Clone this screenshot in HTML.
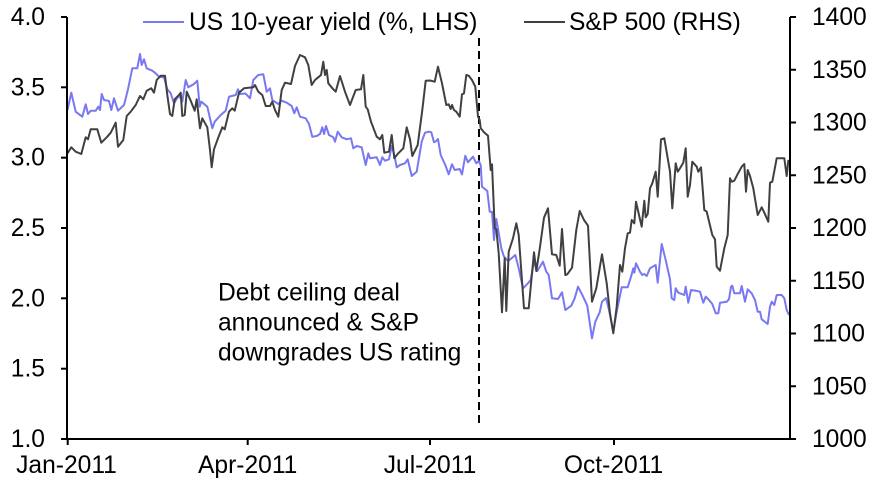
<!DOCTYPE html>
<html>
<head>
<meta charset="utf-8">
<style>
  html, body { margin: 0; padding: 0; background: #ffffff; }
  svg { display: block; }
  text { font-family: "Liberation Sans", Arial, sans-serif; font-size: 24.6px; fill: #000; }
</style>
</head>
<body>
<svg width="873" height="481" viewBox="0 0 873 481" xmlns="http://www.w3.org/2000/svg">
  <!-- Annotation dashed line -->
  <line x1="479" y1="38" x2="479" y2="423" stroke="#000" stroke-width="2" stroke-dasharray="8,5"/>

  <!-- US 10-year yield (blue) -->
  <polyline fill="none" stroke="#7878f2" stroke-width="2" stroke-linejoin="round" points="
67.5,110 71.3,92.7 75.7,111.7 82.3,116.7 85.7,104.3 88,114 90.7,110.7 95.7,110.7 98.3,106.7 100,110 101.7,94 104,100 109,101 111.3,110 114,98.3 118,110.7 124,105 128,89.3 132.3,68.3 137.3,68.3 140,54 141.7,65 144,59.3 146.7,68.3 152.3,70.7 155.7,73.3 159,76.7 164,77.3 167.3,89.3 170.7,93.3 174,103.3 179,95 182.3,101.7 185.7,80 188.3,87.3 194,84 197.3,80.7 199.7,106.7 201.3,101.7 207.3,106.7 212.3,128.3 214.7,121.7 220.7,115 225.7,110.7 229,96.7 235.7,95 238,89.3 240,94 245.5,93.5 250,98.3 253.3,80 258.3,75 263.3,74.3 266.7,91.7 270,88.3 272.3,100 278.3,104 281.7,100.7 286.7,102.7 291.7,106 294.3,113.3 296.7,107.3 300,116.7 305.7,118.3 309,124 312.3,136.7 316.7,136 320,134 322.3,127.3 324,134 326,126 329,135 333.3,137.3 335,141.7 337.7,131.7 341.7,137.3 346.7,139.3 351,138.3 353.3,148.3 356.7,146 361.7,147.3 365.7,165 368.3,153.3 370,158.3 376.7,157.3 380,165 382.3,157.3 385,160.7 389,159.3 391.7,146 394.3,155 396.7,167.3 400,165 405,163.3 407.7,159.3 411.7,176 416.7,171.7 421.7,141.7 425,132.7 429,131.7 431.3,132.3 434,142.3 436.3,141 438,139 440.7,155 445.3,165 448.7,174.3 452,164.3 454.7,170 459.7,169 462,174.3 465.3,155.7 468,162.3 473,156.7 476.3,163.3 478.7,161 480.7,165 482,186.7 487.3,191 489.7,211.7 492,211.7 494,240 496.3,219 501.3,248.3 504,256.7 508,261 510.7,259 515.3,255 518.7,268.3 523,288.3 528,283.3 530.7,280 534,261.7 537.3,271 543,261.7 546.3,271.7 548.7,275 552,298.3 558,299 562,292.3 565.3,310 571.3,305.7 574.7,298.3 578,286.7 582,294.3 587.3,305.7 592,338.3 595.3,321.7 599.7,312.3 602,301.7 606,298 609,310 613.3,331.7 616.7,311.7 621.7,287.3 627.7,287.3 631,276.7 633.3,268.3 634.3,272.7 636,263.3 640,271.7 642.3,275 644.3,274 646.7,276 650,268.3 655.7,265 657.7,282.7 661.7,244 665.7,260 670,279.3 671.7,298.3 674.3,300 675.7,288.3 678.3,292.7 684.3,295 685.7,286.7 688.3,302.7 691,290 695.7,290.7 700,291.7 703.3,302.7 705.7,296.7 709,300 712.3,304 715.7,313.3 718.3,313.3 720,302.7 726.7,301.7 729,299.3 731,286.7 732.3,285.7 734.3,293.3 740,293.3 741.7,286 745,301.7 747.7,289.3 751.7,293.3 755,300 757.7,311.7 760,311.7 761.7,319.3 767.7,324 770,306.7 771.7,301.7 774.3,305 776.7,295 781.7,295 784.3,298.3 786.7,310 789,315"/>

  <!-- S&P 500 (dark grey) -->
  <polyline fill="none" stroke="#404040" stroke-width="2" stroke-linejoin="round" points="
67.5,153.3 71.3,147.3 75.7,151.7 81.3,154 85.7,137.3 88,139.3 90.7,129.3 97.3,129.3 101.3,142.7 107.3,136.7 110.7,132.7 115.7,122.7 118,146.7 123.3,140 126.7,116 130.7,111.7 135.7,105 140,96 143.3,99.3 146.7,90.7 151.3,88.3 154,92.7 156.7,80 160.7,75.7 165,75.7 167.3,95 170,114 172.3,116 174.7,99.3 179,95 180.7,92.7 182.3,116 184.7,115 186.7,91.7 190.7,100.7 194.7,110.7 196.7,99.3 200,128.3 202.3,118.3 207.3,127.3 210,150 211.7,167.3 214,149.3 218,138.3 222.3,127.3 224.7,129.3 229,111.7 232.3,108.3 234.7,110.7 239,92.7 244,88.3 253.3,87.3 255,85 258.3,91.7 262.3,95 265.7,106 270,106 272.3,101.7 275,110 278.3,116.7 281.7,90 285,82.7 291,84 295,66 300,55 305,57.3 308.3,65 311.7,85 315,80 319,76.7 321,75 323.3,61.7 325,75 326.7,70 328.3,83.3 333.3,89.3 335.7,91.7 340,76 345,91.7 350,105 355.7,90 361,89.3 363.3,75 365.7,106.7 367.7,109.3 371,121.7 376.7,136.7 380,139.3 382.3,135 384.3,152.7 389,151.7 391.7,135 394.3,158.3 398.3,153.3 403.3,148.3 406.7,127.3 410,139.3 412.3,156 417.7,145 422.3,110 425.7,80.7 430,80.5 434.7,81.7 438,66.7 442,83.3 446.3,105 448.7,104.3 450.7,109 452,105 454,110 456.3,111.7 459.7,116.7 462,94.3 464,93.3 466.3,75 468.7,75.7 472,80 475.3,86.7 478,116.7 479.7,120 480.7,128.3 484,132.3 488,135.7 490.7,170 492,164.3 494.7,228.3 496.3,229 498.7,253.3 502,312.3 504.7,258.3 506.3,311 508.7,251.7 513,238.3 516.3,223.3 518.7,235 524,308.3 528.7,308.3 534,252.3 536.3,271 539.7,249 544,217.7 548,208.3 552,254.3 556.3,255 559.7,265.7 562,229 565.3,275 567.3,274.3 572,267.7 576.3,230 579.7,211 584,220 588,225.7 592,301.7 596.3,288.3 602,254.3 604.7,271 606.7,283.3 610,313.3 613.3,333.3 616.7,306.7 620,265 622.3,271.7 625,248.3 627.7,233.3 630,232.7 631.7,220 634.3,223.3 636,201.7 639,215 641.7,226.7 644.3,200.7 645.7,217.3 647.7,214 650,188.3 652.3,183.3 655.7,171.7 657.7,196.7 661,139.3 664.3,138.3 670,171.7 672.3,208.3 675.7,163.3 677.7,171.7 680,168.3 683.3,162.7 685.7,148.3 687.7,196.7 690,185 692.3,161.7 696.7,166.7 698.3,171.7 701,167.3 704.3,210 706.7,211.7 712.3,235 715,239.3 716.7,266.7 720,270.7 721.7,261.7 724.3,248.3 727.7,235 730,178.3 731.7,181.7 734.3,180.7 737.7,174 741.7,166.7 744.3,164 746,191.7 747.7,170 750,176 753.3,188.3 757.7,215 761.7,207.3 764.3,212.7 768.3,221.7 770,182.7 772.3,181.7 776.7,158.3 784.3,158.3 786.7,176 788.3,160.7 789,163"/>

  <!-- Axes -->
  <g stroke="#000" stroke-width="2" fill="none">
    <line x1="67" y1="17" x2="67" y2="440"/>
    <line x1="790" y1="17" x2="790" y2="440"/>
    <line x1="66" y1="439" x2="791" y2="439"/>
    <!-- left ticks -->
    <line x1="61" y1="17" x2="67" y2="17"/>
    <line x1="61" y1="87.3" x2="67" y2="87.3"/>
    <line x1="61" y1="157.7" x2="67" y2="157.7"/>
    <line x1="61" y1="228" x2="67" y2="228"/>
    <line x1="61" y1="298.3" x2="67" y2="298.3"/>
    <line x1="61" y1="368.7" x2="67" y2="368.7"/>
    <line x1="61" y1="439" x2="67" y2="439"/>
    <!-- right ticks -->
    <line x1="790" y1="17" x2="796" y2="17"/>
    <line x1="790" y1="69.75" x2="796" y2="69.75"/>
    <line x1="790" y1="122.5" x2="796" y2="122.5"/>
    <line x1="790" y1="175.25" x2="796" y2="175.25"/>
    <line x1="790" y1="228" x2="796" y2="228"/>
    <line x1="790" y1="280.75" x2="796" y2="280.75"/>
    <line x1="790" y1="333.5" x2="796" y2="333.5"/>
    <line x1="790" y1="386.25" x2="796" y2="386.25"/>
    <line x1="790" y1="439" x2="796" y2="439"/>
    <!-- bottom ticks -->
    <line x1="67.7" y1="439" x2="67.7" y2="445"/>
    <line x1="247.7" y1="439" x2="247.7" y2="445"/>
    <line x1="430" y1="439" x2="430" y2="445"/>
    <line x1="614" y1="439" x2="614" y2="445"/>
  </g>

  <!-- Left axis labels -->
  <g text-anchor="end">
    <text x="45" y="25">4.0</text>
    <text x="45" y="95.3">3.5</text>
    <text x="45" y="165.7">3.0</text>
    <text x="45" y="236">2.5</text>
    <text x="45" y="306.3">2.0</text>
    <text x="45" y="376.7">1.5</text>
    <text x="45" y="447">1.0</text>
  </g>

  <!-- Right axis labels -->
  <g text-anchor="start">
    <text x="812" y="25">1400</text>
    <text x="812" y="77.75">1350</text>
    <text x="812" y="130.5">1300</text>
    <text x="812" y="183.25">1250</text>
    <text x="812" y="236">1200</text>
    <text x="812" y="288.75">1150</text>
    <text x="812" y="341.5">1100</text>
    <text x="812" y="394.25">1050</text>
    <text x="812" y="447">1000</text>
  </g>

  <!-- X axis labels -->
  <g text-anchor="middle">
    <text x="66.5" y="473">Jan-2011</text>
    <text x="247.7" y="473">Apr-2011</text>
    <text x="430" y="473">Jul-2011</text>
    <text x="613.5" y="473">Oct-2011</text>
  </g>

  <!-- Legend -->
  <line x1="143" y1="22" x2="184" y2="22" stroke="#7878f2" stroke-width="2"/>
  <text x="189" y="30">US 10-year yield (%, LHS)</text>
  <line x1="524" y1="22" x2="565" y2="22" stroke="#404040" stroke-width="2"/>
  <text x="569" y="30">S&amp;P 500 (RHS)</text>

  <!-- Annotation -->
  <text x="218" y="300.5">Debt ceiling deal</text>
  <text x="218" y="330.5">announced &amp; S&amp;P</text>
  <text x="218" y="360.5">downgrades US rating</text>
</svg>
</body>
</html>
